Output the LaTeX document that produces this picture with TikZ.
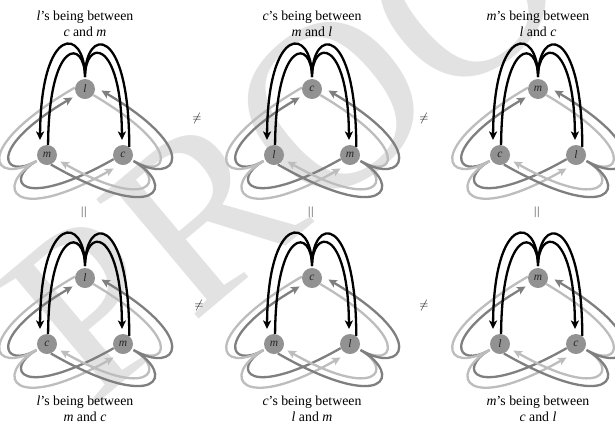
\documentclass[tikz,border=0pt]{standalone}
\usepackage{fontspec}
\setmainfont{Liberation Serif}
\usetikzlibrary{arrows.meta}
\definecolor{lgray}{HTML}{BDBDBD}
\definecolor{mgray}{HTML}{7F7F7F}
\definecolor{ngray}{HTML}{929292}
\definecolor{wmgray}{HTML}{E2E2E2}
\pgfdeclarelayer{wmlayer}
\pgfdeclarelayer{linelayer}
\pgfsetlayers{wmlayer,linelayer,main}
\tikzset{
  pnode/.style={circle, fill=ngray, minimum size=20pt, inner sep=0pt, text=black!85,
    font=\fontsize{11.5}{11.5}\selectfont\itshape},
  path line/.style={line width=2.3pt, line cap=butt,
    -{Stealth[length=8.5pt,width=8pt,inset=2pt]}},
  caption/.style={align=center, font=\fontsize{13.8}{15.5}\selectfont},
  relsym/.style={font=\fontsize{13}{13}\selectfont},
  eqsym/.style={font=\fontsize{16}{16}\selectfont, text=black!75, rotate=90},
}
% #1 centroid, #2 rotation, #3 inner colour, #4 outer colour,
% #5 inner start (node.angle), #6 outer start (node.angle)
\newcommand\lobeM[6]{%
  \begin{scope}[shift={#1}, rotate=#2]
    \draw[path line, draw=#3] (#5) .. controls (-36,-96) and (0,-94) .. (0,-56)
        .. controls (0,-94) and (36,-96) .. (37,7);
    \draw[path line, draw=#4] (#6) .. controls (44,-110) and (0,-106) .. (0,-56)
        .. controls (0,-106) and (-44,-110) .. (-45,7);
  \end{scope}}
% #1 prefix, #2 centroid x, #3 centroid y, #4 top, #5 left, #6 right
\newcommand\unitM[6]{%
  \node[pnode] (#1T) at (#2,#3-44) {#4};
  \node[pnode] (#1L) at (#2-38,#3+22) {#5};
  \node[pnode] (#1R) at (#2+38,#3+22) {#6};
  \begin{pgfonlayer}{linelayer}
    \lobeM{(#2,#3)}{120}{mgray}{lgray}{#1R.204}{#1T.172}
    \lobeM{(#2,#3)}{-120}{lgray}{mgray}{#1T.324}{#1L.292}
    \lobeM{(#2,#3)}{0}{black}{black}{#1L.84}{#1R.52}
  \end{pgfonlayer}}
\begin{document}
\begin{tikzpicture}[x=1pt,y=-1pt]
\useasboundingbox (0,0) rectangle (615,424);
\begin{pgfonlayer}{wmlayer}
  \fill[white] (0,0) rectangle (615,424);
  \node[text=wmgray, rotate=40, anchor=base west, inner sep=0pt,
    font=\fontsize{240}{240}\selectfont] (wm) at (90,410) {PROOF};
\end{pgfonlayer}

\unitM{a}{85}{133}{l}{m}{c}
\unitM{b}{312}{133}{c}{l}{m}
\unitM{c}{538}{133}{m}{c}{l}
\unitM{d}{85}{322}{l}{c}{m}
\unitM{e}{312}{322}{c}{m}{l}
\unitM{f}{538}{322}{m}{l}{c}

\node[caption] (ta) at (85,24) {\textit{l}’s being between\\\textit{c} and \textit{m}};
\node[caption] (tb) at (312,24) {\textit{c}’s being between\\\textit{m} and \textit{l}};
\node[caption] (tc) at (538,24) {\textit{m}’s being between\\\textit{l} and \textit{c}};
\node[caption] (td) at (85,409) {\textit{l}’s being between\\\textit{m} and \textit{c}};
\node[caption] (te) at (312,409) {\textit{c}’s being between\\\textit{l} and \textit{m}};
\node[caption] (tf) at (538,409) {\textit{m}’s being between\\\textit{c} and \textit{l}};

\node[relsym] (n1) at (197,118) {$\neq$};
\node[relsym] (n2) at (424,118) {$\neq$};
\node[relsym] (n3) at (199,305) {$\neq$};
\node[relsym] (n4) at (424,305) {$\neq$};
\node[eqsym] (e1) at (85,212) {$=$};
\node[eqsym] (e2) at (312,212) {$=$};
\node[eqsym] (e3) at (538,212) {$=$};
\end{tikzpicture}
\end{document}
